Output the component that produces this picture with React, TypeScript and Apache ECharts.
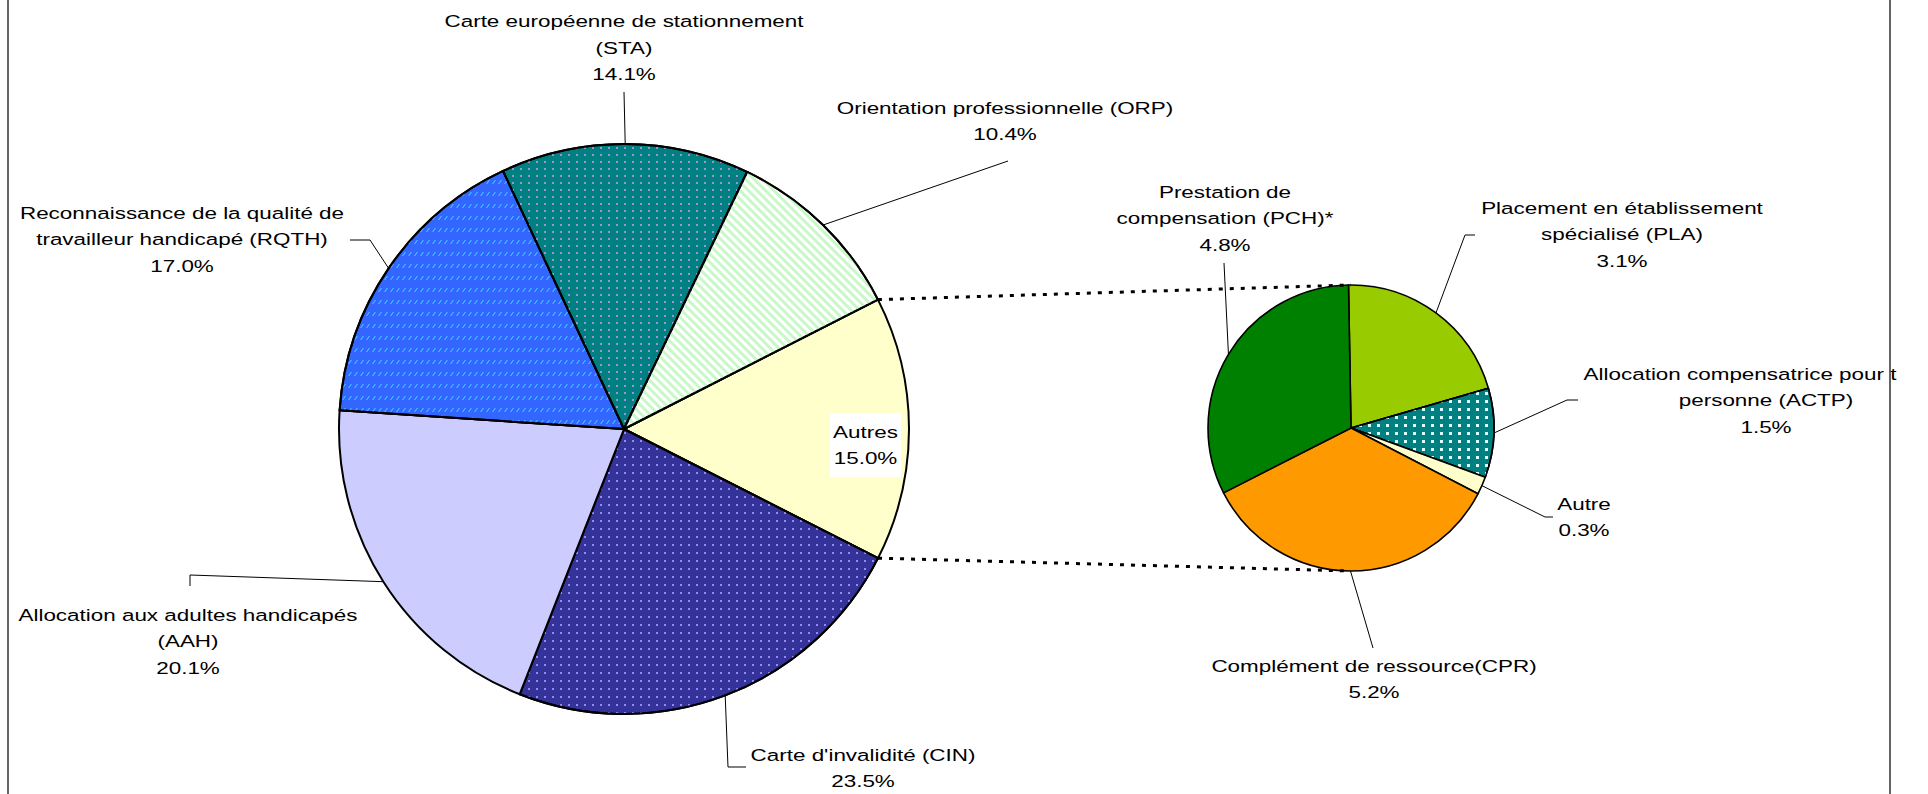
import React, { useEffect, useRef } from 'react';
import * as echarts from 'echarts';

// ---------- data ----------
const leftNames = [
  'Autres',
  "Carte d'invalidité (CIN)",
  'Allocation aux adultes handicapés\n(AAH)',
  'Reconnaissance de la qualité de\ntravailleur handicapé (RQTH)',
  'Carte européenne de stationnement\n(STA)',
  'Orientation professionnelle (ORP)',
];
const leftValues = [15.0, 23.5, 20.1, 17.0, 14.1, 10.4];

const rightNames = [
  'Placement en établissement\nspécialisé (PLA)',
  'Allocation compensatrice pour t\npersonne (ACTP)',
  'Autre',
  'Complément de ressource(CPR)',
  'Prestation de\ncompensation (PCH)*',
];
const rightValues = [3.1, 1.5, 0.3, 5.2, 4.8];

// ---------- styles ----------
const leftColors = ['#FFFFCC', '#333399', '#CCCCFF', '#3366FF', '#008080', '#FFFFFF'];
const rightColors = ['#99CC00', '#008080', '#FFFFCC', '#FF9900', '#008000'];

const dotDecal = (color: string, px: number[], py: number[]) => ({
  symbol: 'rect', symbolSize: 1, color, dashArrayX: px, dashArrayY: py, rotation: 0,
});
const leftDecals: any[] = [
  null,
  dotDecal('#9C86F0', [2, 5.5], [2, 5.5]),
  null,
  {
    symbol: 'path://M0,10L7,0L10,0L3,10Z', symbolSize: 1, symbolKeepAspect: false,
    color: '#33CCFF', dashArrayX: [4, 1.5], dashArrayY: [4, 8], rotation: 0,
  },
  dotDecal('#9F93D6', [2, 6], [2, 5]),
  { symbol: 'rect', symbolSize: 1, color: '#C8F8C8', dashArrayX: [1, 0], dashArrayY: [2.5, 2.2], rotation: Math.PI / 4 },
];
const rightDecals: any[] = [null, dotDecal('#DDFFFF', [2.2, 6], [2.2, 5]), null, null, null];

// ---------- layout ----------
const LEFT = { cx: 624, cy: 429, r: 285, start: 27 };
const RIGHT = { cx: 1351, cy: 428, r: 143, start: 91 };
const PITCH = 26.5;
const SX = 1.32;

const leftLabelLayout: any[] = [
  { x: 865.5, y: 432, box: [830, 413, 71, 64], leader: null },
  { x: 863, y: 755, leader: [[728, 767], [746, 767]] },
  { x: 188, y: 615, leader: [[190, 575], [190, 586]] },
  { x: 182, y: 213, leader: [[370, 240], [350, 240]] },
  { x: 624, y: 21.5, leader: [[624, 92]] },
  { x: 1005, y: 108, leader: [[1008, 161]] },
];
const rightLabelLayout: any[] = [
  { x: 1622, y: 208, leader: [[1465, 235], [1475, 235]] },
  { x: 1766, y: 374, lineX: [1740], leader: [[1567, 400], [1578, 400]] },
  { x: 1584, y: 504, leader: [[1545, 517], [1553, 517]] },
  { x: 1374, y: 666, leader: [[1373, 648]] },
  { x: 1225, y: 192, leader: [[1224, 263]] },
];

function sliceAngles(values: number[], start: number) {
  const total = values.reduce((a, b) => a + b, 0);
  let acc = 0;
  return values.map((v) => {
    const a0 = start - (acc / total) * 360;
    acc += v;
    const a1 = start - (acc / total) * 360;
    return { a0, a1, mid: (a0 + a1) / 2 };
  });
}
function polar(p: any, deg: number, r: number = p.r) {
  const t = (deg * Math.PI) / 180;
  return [p.cx + r * Math.cos(t), p.cy - r * Math.sin(t)];
}

function textEl(str: string, x: number, y: number) {
  return {
    type: 'text', x, y, scaleX: SX, z: 100, silent: true,
    style: {
      text: str, x: 0, y: 0,
      align: 'center', verticalAlign: 'middle', textAlign: 'center', textVerticalAlign: 'middle',
      fill: '#000', fontSize: 17, fontFamily: '"Liberation Sans", Arial, sans-serif',
    },
  };
}

function buildLabels(names: string[], values: number[], layout: any[], pie: any) {
  const angles = sliceAngles(values, pie.start);
  const els: any[] = [];
  names.forEach((name, i) => {
    const L = layout[i];
    const lines = [...name.split('\n'), values[i].toFixed(1) + '%'];
    if (L.box) {
      els.push({
        type: 'rect', z: 99, silent: true,
        shape: { x: L.box[0], y: L.box[1], width: L.box[2], height: L.box[3] },
        style: { fill: '#FFFFFF', stroke: 'none' },
      });
    }
    lines.forEach((ln, j) => {
      const lx = L.lineX && L.lineX[j] !== undefined ? L.lineX[j] : L.x;
      els.push(textEl(ln, lx, L.y + j * PITCH));
    });
    if (L.leader) {
      const anchor = polar(pie, angles[i].mid);
      els.push({
        type: 'polyline', z: 100, silent: true,
        shape: { points: [anchor, ...L.leader] },
        style: { stroke: '#000', lineWidth: 1, fill: 'none' },
      });
    }
  });
  return els;
}

export default function App() {
  const ref = useRef<HTMLDivElement>(null);
  useEffect(() => {
    if (!ref.current) return;
    const chart = echarts.init(ref.current, undefined, { renderer: 'svg' });
    const leftAngles = sliceAngles(leftValues, LEFT.start);
    const autres = leftAngles[0];
    const pTop = polar(LEFT, autres.a0);
    const pBot = polar(LEFT, autres.a1);
    const rTop = polar(RIGHT, 90);
    const rBot = polar(RIGHT, -90);

    const graphics: any[] = [
      {
        type: 'rect', z: 1, silent: true,
        shape: { x: 8, y: -10, width: 1882, height: 820 },
        style: { fill: 'none', stroke: '#333', lineWidth: 1.5 },
      },
      {
        type: 'line', z: 100, silent: true,
        shape: { x1: pTop[0], y1: pTop[1], x2: rTop[0], y2: rTop[1] },
        style: { stroke: '#000', lineWidth: 3, lineDash: [4, 7] },
      },
      {
        type: 'line', z: 100, silent: true,
        shape: { x1: pBot[0], y1: pBot[1], x2: rBot[0], y2: rBot[1] },
        style: { stroke: '#000', lineWidth: 3, lineDash: [4, 7] },
      },
      ...buildLabels(leftNames, leftValues, leftLabelLayout, LEFT),
      ...buildLabels(rightNames, rightValues, rightLabelLayout, RIGHT),
    ];

    const mkData = (names: string[], values: number[], colors: string[], decals: any[]) =>
      values.map((v, i) => {
        const itemStyle: any = { color: colors[i] };
        if (decals[i]) itemStyle.decal = decals[i];
        return { name: names[i], value: v, itemStyle };
      });

    chart.setOption({
      animation: false,
      backgroundColor: '#FFFFFF',
      series: [
        {
          type: 'pie', center: [LEFT.cx, LEFT.cy], radius: LEFT.r, startAngle: LEFT.start,
          clockwise: true, silent: true, avoidLabelOverlap: false,
          label: { show: false }, labelLine: { show: false }, emphasis: { disabled: true },
          itemStyle: { borderColor: '#000', borderWidth: 2 },
          data: mkData(leftNames, leftValues, leftColors, leftDecals),
        },
        {
          type: 'pie', center: [RIGHT.cx, RIGHT.cy], radius: RIGHT.r, startAngle: RIGHT.start,
          clockwise: true, silent: true, avoidLabelOverlap: false,
          label: { show: false }, labelLine: { show: false }, emphasis: { disabled: true },
          itemStyle: { borderColor: '#000', borderWidth: 1.6 },
          data: mkData(rightNames, rightValues, rightColors, rightDecals),
        },
      ],
      graphic: { elements: graphics },
    });
    return () => chart.dispose();
  }, []);
  return (
    <div
      ref={ref}
      style={{ position: 'fixed', left: 0, top: 0, width: 1928, height: 794, background: '#fff' }}
    />
  );
}
